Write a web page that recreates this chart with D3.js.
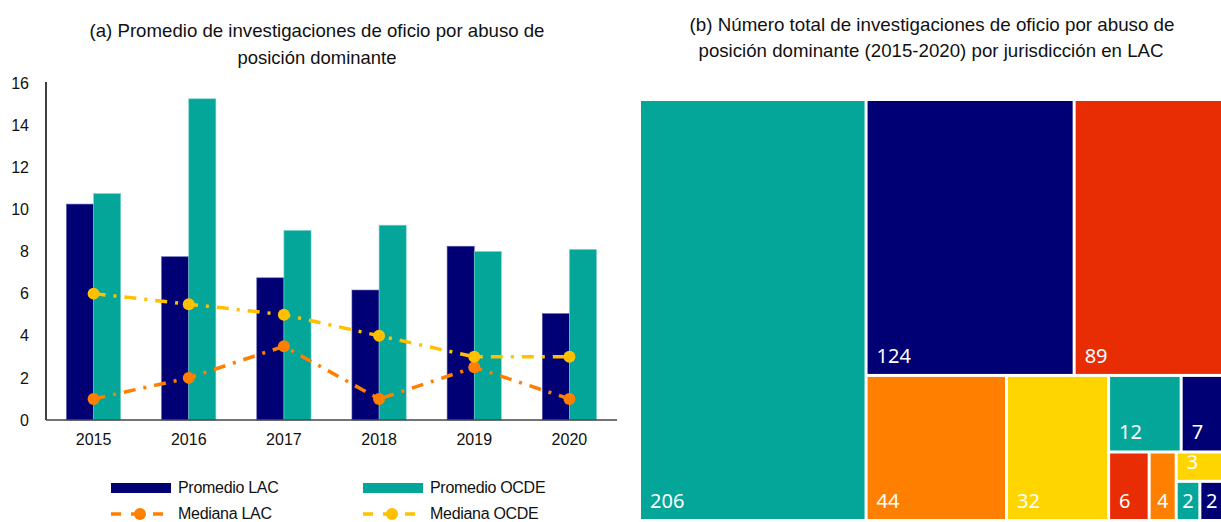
<!DOCTYPE html>
<html><head><meta charset="utf-8">
<script src="https://cdn.jsdelivr.net/npm/d3@7"></script>
<style>body{margin:0;background:#fff}svg{display:block}</style>
</head><body><svg id="c" width="1221" height="522"></svg>
<script>
const years = ["2015","2016","2017","2018","2019","2020"];
const promedioLAC = [10.25, 7.75, 6.75, 6.17, 8.25, 5.05];
const promedioOCDE = [10.75, 15.25, 9.0, 9.25, 8.0, 8.1];
const medianaLAC = [1, 2, 3.5, 1, 2.5, 1];
const medianaOCDE = [6, 5.5, 5, 4, 3, 3];
const yTicks = [0,2,4,6,8,10,12,14,16];
const jurisdValues = [206,124,89,44,32,12,7,6,4,3,2,2];
const jurisdColors = ["teal","navy","red","orange","yellow","teal","navy","red","orange","yellow","teal","navy"];
const palette = {teal:"#04A699", navy:"#000074", red:"#E82D05", orange:"#FF8000", yellow:"#FFD500"};
const titleA = ["(a) Promedio de investigaciones de oficio por abuso de","posición dominante"];
const titleB = ["(b) Número total de investigaciones de oficio por abuso de","posición dominante (2015-2020) por jurisdicción en LAC"];

const svg = d3.select("#c");
const FONT = "'Liberation Sans', Arial, sans-serif";

function titleLine(sel, t, x, yb, len){
  sel.append("text").attr("x",x).attr("y",yb).attr("text-anchor","middle")
    .attr("font-family",FONT).attr("font-size",19).attr("fill","#111")
    .attr("textLength",len).attr("lengthAdjust","spacingAndGlyphs").text(t);
}

// ---- Panel (a)
const x0 = d3.scaleBand().domain(years).range([46,617]).paddingInner(0.43).paddingOuter(0.215);
const x1 = d3.scaleBand().domain(["LAC","OCDE"]).range([0,x0.bandwidth()]);
const y = d3.scaleLinear().domain([0,16]).range([420,83]);
const gA = svg.append("g");

titleLine(gA, titleA[0], 317, 37, 455);
titleLine(gA, titleA[1], 317, 64, 159);

const yAxis = d3.axisLeft(y).tickValues(yTicks).tickSize(0).tickPadding(17);
const ya = gA.append("g").attr("transform","translate(46,0)").call(yAxis);
ya.select(".domain").attr("stroke","#000").attr("stroke-width",1.5).attr("d","M0,82V420");
ya.selectAll("text").attr("font-family",FONT).attr("font-size",16).attr("fill","#111");

const series = [{k:"LAC",v:promedioLAC,c:palette.navy,s:"#5555aa"},{k:"OCDE",v:promedioOCDE,c:palette.teal,s:"#7fd3cb"}];
series.forEach(s=>{
  gA.append("g").selectAll("rect").data(years).join("rect")
    .attr("x",(d)=>x0(d)+x1(s.k)).attr("width",x1.bandwidth())
    .attr("y",(d,i)=>y(s.v[i])).attr("height",(d,i)=>y(0)-y(s.v[i]))
    .attr("fill",s.c).attr("stroke",s.s).attr("stroke-width",0.6);
});

const xAxis = d3.axisBottom(x0).tickSize(0).tickPadding(14);
const xa = gA.append("g").attr("transform","translate(0,420)").call(xAxis);
xa.select(".domain").attr("stroke","#444").attr("stroke-width",1.5).attr("d","M46,0H617");
xa.selectAll("text").attr("font-family",FONT).attr("font-size",16).attr("fill","#111");

const cx = d=>x0(d)+x0.bandwidth()/2;
const medians = [{v:medianaLAC,c:"#FF7F00"},{v:medianaOCDE,c:"#FFC000"}];
medians.forEach(m=>{
  const line = d3.line().x((d,i)=>cx(years[i])).y(d=>y(d));
  gA.append("path").datum(m.v).attr("d",line).attr("fill","none").attr("stroke",m.c)
    .attr("stroke-width",3.5).attr("stroke-dasharray","12,8,3,8");
  gA.append("g").selectAll("circle").data(m.v).join("circle")
    .attr("cx",(d,i)=>cx(years[i])).attr("cy",d=>y(d)).attr("r",6).attr("fill",m.c);
});

// legend
const leg = [
  {t:"Promedio LAC",type:"bar",c:palette.navy,x:111,y:488,tb:493},
  {t:"Promedio OCDE",type:"bar",c:palette.teal,x:363,y:488,tb:493},
  {t:"Mediana LAC",type:"line",c:"#FF7F00",x:111,y:514,tb:519},
  {t:"Mediana OCDE",type:"line",c:"#FFC000",x:363,y:514,tb:519}
];
leg.forEach(l=>{
  const g = gA.append("g");
  if(l.type==="bar"){
    g.append("rect").attr("x",l.x).attr("y",l.y-5).attr("width",60).attr("height",10).attr("fill",l.c);
  } else {
    g.append("line").attr("x1",l.x).attr("x2",l.x+52).attr("y1",l.y).attr("y2",l.y).attr("stroke",l.c)
      .attr("stroke-width",3.5).attr("stroke-dasharray","10,10,0,0,12,10");
    g.append("circle").attr("cx",l.x+29).attr("cy",l.y).attr("r",6).attr("fill",l.c);
  }
  g.append("text").attr("x",l.x+67).attr("y",l.tb).attr("font-family",FONT).attr("font-size",16)
    .attr("letter-spacing","-0.3").attr("fill","#111").text(l.t);
});

// ---- Panel (b) treemap
titleLine(svg, titleB[0], 932, 31, 485);
titleLine(svg, titleB[1], 931, 57, 465);

const L = jurisdValues.map((v,i)=>({value:v,color:jurisdColors[i]}));
const treeData = {children:[
  L[0],
  {children:[
    {children:[L[1],L[2]]},
    {children:[L[3],L[4],
      {children:[
        {children:[L[5],L[6]]},
        {children:[L[7],L[8],
          {children:[L[9],{children:[L[10],L[11]]}]}
        ]}
      ]}
    ]}
  ]}
]};
const root = d3.hierarchy(treeData).sum(d=>d.children?0:d.value);
d3.treemap().tile(d3.treemapSliceDice).size([581,418]).paddingInner(3).round(false)(root);
const gB = svg.append("g").attr("transform","translate(641,101)");
const cells = gB.selectAll("g").data(root.leaves()).join("g");
cells.append("rect").attr("x",d=>d.x0).attr("y",d=>d.y0).attr("width",d=>d.x1-d.x0).attr("height",d=>d.y1-d.y0)
  .attr("fill",d=>palette[d.data.color]);
cells.append("text").attr("font-family","'Noto Sans', 'Open Sans', sans-serif").attr("font-size",20).attr("fill","#fff")
  .text(d=>d.data.value)
  .each(function(d){
    const w = this.getComputedTextLength();
    const cw = d.x1-d.x0;
    const off = Math.min(9,(cw-w)/2);
    d3.select(this).attr("x",d.x0+off).attr("y",d.y1-11);
  });
</script></body></html>
